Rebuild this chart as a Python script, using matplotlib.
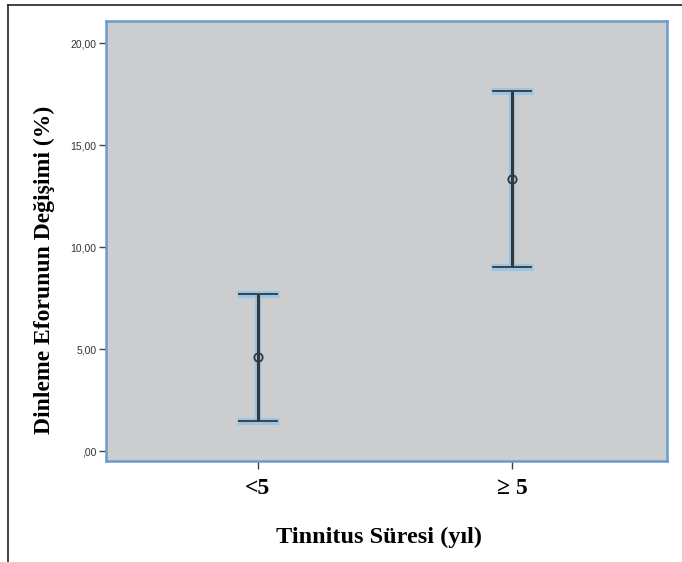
import matplotlib.pyplot as plt
from matplotlib.lines import Line2D

categories = ['<5', '\u2265 5']
means = [4.6, 13.33]
lower = [1.45, 9.02]
upper = [7.72, 17.65]
ytick_vals = [0, 5, 10, 15, 20]
ytick_labels = [',00', '5,00', '10,00', '15,00', '20,00']

fig = plt.figure(figsize=(6.82, 5.62), dpi=100)
ax = fig.add_axes([106 / 682, 1 - 461 / 562, (667 - 106) / 682, (461 - 21) / 562])
ax.set_facecolor('#cbcdcf')

xs = [1, 2]
err_lo = [m - l for m, l in zip(means, lower)]
err_hi = [u - m for m, u in zip(means, upper)]

# light blue glow under the bars
ax.errorbar(xs, means, yerr=[err_lo, err_hi], fmt='none', ecolor='#8ec3ea',
            elinewidth=4.5, capsize=14.8, capthick=5, alpha=0.8, zorder=2)
ax.errorbar(xs, means, yerr=[err_lo, err_hi], fmt='o', color='#34383d',
            ecolor='#34383d', elinewidth=2.2, capsize=14.4, capthick=2.6,
            markersize=6, markerfacecolor='none', markeredgewidth=1.3, zorder=3)

ax.set_xlim(0.402, 2.61)
ax.set_ylim(-0.49, 21.08)
ax.set_xticks(xs)
ax.set_xticklabels(categories, fontfamily='Liberation Serif', fontweight='bold', fontsize=17)
ax.set_yticks(ytick_vals)
ax.set_yticklabels(ytick_labels, fontfamily='Liberation Sans', fontsize=7.5, color='#333333')
ax.tick_params(axis='y', length=5, width=1, color='#444444', pad=2)
ax.tick_params(axis='x', length=6, width=1, color='#444444', pad=6)

for s in ax.spines.values():
    s.set_color('#6a9bcc')
    s.set_linewidth(1.8)

ax.set_ylabel('Dinleme Eforunun Değişimi (%)', fontfamily='Liberation Serif',
              fontweight='bold', fontsize=17, va='center')
ax.yaxis.set_label_coords(-0.109, 0.434)
ax.set_xlabel('Tinnitus Süresi (yıl)', fontfamily='Liberation Serif',
              fontweight='bold', fontsize=17.5, va='center')
ax.xaxis.set_label_coords(0.487, -0.173)

# outer frame lines (top and left)
fig.add_artist(Line2D([8 / 682, 1], [1 - 5 / 562, 1 - 5 / 562], color='#222222', lw=1.2))
fig.add_artist(Line2D([8 / 682, 8 / 682], [0, 1 - 5 / 562], color='#222222', lw=1.2))

fig.savefig('out.png', dpi=100)
